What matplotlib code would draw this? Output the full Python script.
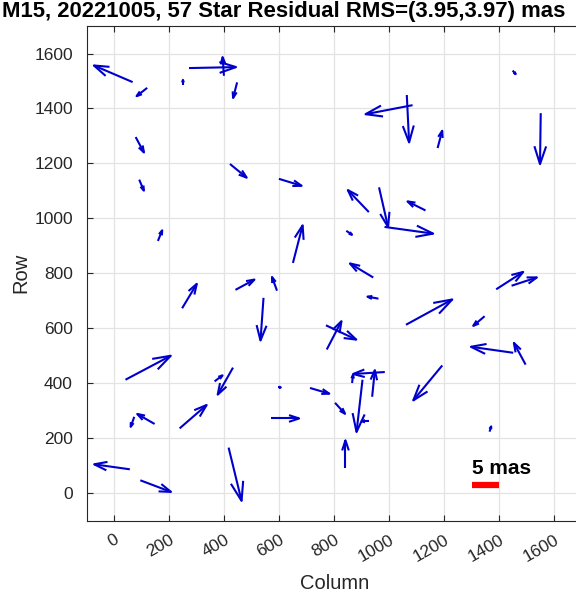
import numpy as np
import matplotlib
matplotlib.use("Agg")
import matplotlib.pyplot as plt

plt.rcParams['font.family'] = ['Liberation Sans', 'DejaVu Sans']

# star positions (pixels) and residuals (mas)
col = [67, 120, 250, 272, 399, 447, 78, 421, 599, 91,
       1449, 1085, 1064, 1176, 1551, 159, 650, 247, 441, 592,
       543, 926, 963, 983, 1132, 844, 942, 961, 1061, 1389,
       1445, 1347, 770, 773, 41, 365, 432, 73, 147, 238,
       594, 712, 572, 57, 95, 416, 1193, 1451, 1496, 1365,
       841, 903, 984, 938, 865, 927, 803]
row = [1496, 1475, 1486, 1547, 1519, 1495, 1296, 1198, 1144, 1141,
       1538, 1412, 1449, 1256, 1383, 918, 838, 673, 740, 737,
       711, 1023, 1113, 969, 1029, 955, 785, 708, 613, 742,
       755, 644, 611, 523, 413, 407, 457, 278, 252, 236,
       385, 383, 272, 87, 47, 166, 465, 511, 468, 224,
       92, 413, 441, 351, 401, 262, 329]
dx_mas = [-7.04, -1.93, 0.0, 8.55, -0.24, -0.73, 1.51, 3.04, 4.13, 0.85,
          0.55, -8.55, 0.42, 0.84, -0.13, 0.78, 1.76, 2.67, 3.45, -0.91,
          -0.55, -3.82, 1.64, 8.84, -3.27, 1.04, -4.24, -2.0, 8.42, 4.91,
          4.6, -2.07, 5.51, 2.67, 8.24, 1.45, -2.78, -0.65, -3.16, 4.91,
          0.6, 3.51, 5.02, -6.49, 5.58, 2.36, -5.27, -7.69, -2.13, 0.29,
          0.0, -1.09, -5.76, 0.49, 0.18, -1.38, 1.82]
dy_mas = [3.02, -1.51, 0.91, 0.18, 3.4, -2.84, -2.8, -2.49, -1.27, -2.0,
          -0.65, -1.64, -8.62, 3.15, -9.27, 1.93, 6.84, 4.44, 1.87, 2.49,
          -7.76, 4.0, -7.2, -1.22, 1.64, -0.73, 2.55, 0.36, 4.6, 3.16,
          1.51, -1.75, -2.6, 5.15, 4.36, 1.09, -4.91, -1.82, 1.82, 4.25,
          0.0, -1.04, 0.0, 0.91, -2.11, -9.69, -6.36, 1.09, 3.95, 0.96,
          5.02, -9.51, -0.36, 4.84, 1.51, 0.0, -2.0]

scale = 20.0          # plot units per mas
ref_mas = 5
title = "M15, 20221005, 57 Star Residual RMS=(3.95,3.97) mas"

fig = plt.figure(figsize=(5.76, 5.97), dpi=100)
ax = fig.add_axes([0.1505, 0.1278, 0.8594, 0.8286])

blue = '#0000cc'
alpha, beta = 0.33, 0.33
for x, y, du, dv in zip(col, row, dx_mas, dy_mas):
    u, v = du * scale, dv * scale
    ax.plot([x, x + u], [y, y + v], color=blue, lw=1.5, solid_capstyle='butt')
    hx = [x + u - alpha * (u + beta * v), x + u, x + u - alpha * (u - beta * v)]
    hy = [y + v - alpha * (v - beta * u), y + v, y + v - alpha * (v + beta * u)]
    ax.plot(hx, hy, color=blue, lw=1.5)

# scale bar
ax.plot([1300, 1300 + ref_mas * scale], [30, 30], color='red', lw=4.5, solid_capstyle='butt')
ax.text(1300, 55, f"{ref_mas} mas", fontsize=15, fontweight='bold', ha='left', va='bottom')

ax.set_xlim(-100, 1700)
ax.set_ylim(-100, 1700)
ax.set_xticks(np.arange(0, 1700, 200))
ax.set_yticks(np.arange(0, 1700, 200))
ax.grid(True, color='#e3e3e3', lw=0.9)
ax.set_axisbelow(True)
ax.tick_params(direction='in', length=4, top=True, right=True, labelsize=12.5,
               color='#262626', labelcolor='#262626')
ax.tick_params(axis='y', pad=10)
ax.tick_params(axis='x', pad=8)
plt.setp(ax.get_xticklabels(), rotation=30, ha='right', va='top', rotation_mode='anchor')
for s in ax.spines.values():
    s.set_color('#262626')
ax.set_xlabel("Column", fontsize=14.5, color='#262626', labelpad=7)
ax.set_ylabel("Row", fontsize=14.5, color='#262626', labelpad=3)
fig.text(284 / 576, 1 - 11 / 597, title, fontsize=15.9, fontweight='bold',
         ha='center', va='center')

fig.savefig("out.png", dpi=100)
